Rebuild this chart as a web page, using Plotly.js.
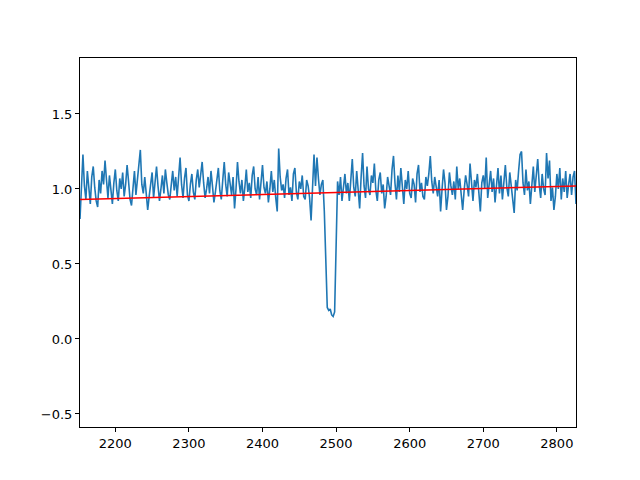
<!DOCTYPE html>
<html>
<head>
<meta charset="utf-8">
<script src="https://cdn.plot.ly/plotly-3.0.1.min.js"></script>
<style>html,body{margin:0;padding:0;background:#fff;}#chart{width:640px;height:480px;}</style>
</head>
<body>
<div id="chart"></div>
<script>
// Sample positions: start and spacing of the spectrum samples
const xStart = 2152;
const xStep = 2;
// Flux values
const flux = [
  0.80, 1.05, 1.23, 1.02, 0.93, 1.12, 0.98, 0.90, 1.08, 1.15,
  1.01, 0.92, 0.88, 1.06, 0.97, 1.12, 1.03, 1.19, 1.06, 0.94,
  1.09, 0.98, 0.90, 1.04, 1.13, 0.99, 0.92, 1.07, 1.00, 1.11,
  0.95, 1.03, 1.16, 1.05, 0.93, 0.89, 1.01, 1.12, 0.96, 1.08,
  1.14, 1.26, 1.03, 0.97, 1.08, 0.99, 0.86, 0.95, 1.04, 1.11,
  0.94, 1.06, 1.15, 1.02, 0.92, 1.00, 1.09, 0.97, 1.13, 1.04,
  0.96, 0.93, 1.05, 1.12, 0.99, 1.08, 0.95, 1.10, 1.21, 1.03,
  0.94, 1.07, 1.14, 0.96, 0.92, 1.03, 1.10, 0.98, 0.93, 1.06,
  1.13, 1.01, 1.09, 1.18, 1.04, 0.94, 1.00, 1.08, 0.97, 1.12,
  1.02, 0.91, 0.98, 1.07, 1.14, 0.99, 0.93, 1.06, 1.18, 1.03,
  0.95, 1.11, 1.02, 0.96, 1.08, 0.87, 1.00, 1.18, 1.05, 0.97,
  1.06, 0.92, 1.01, 1.13, 0.98, 1.04, 0.94, 1.09, 1.15, 1.00,
  0.96, 1.08, 0.93, 1.03, 1.16, 1.01, 0.97, 1.05, 0.91, 1.00,
  1.12, 0.98, 1.06, 0.94, 0.85, 1.27, 1.08, 0.99, 1.03, 0.94,
  1.07, 1.13, 0.96, 1.01, 0.92, 1.10, 1.14, 0.98, 0.93, 1.05,
  1.00, 1.09, 0.95, 0.93, 1.06, 1.02, 0.94, 0.79, 1.05, 1.23,
  1.02, 1.21, 1.07, 0.96, 1.03, 1.06, 0.85, 0.45, 0.21, 0.19,
  0.20, 0.16, 0.15, 0.18, 0.55, 1.05, 0.96, 1.08, 0.92, 1.02,
  1.10, 0.97, 1.04, 0.92, 1.07, 1.20, 1.01, 0.95, 1.12, 0.99,
  0.87, 1.08, 1.24, 1.02, 0.94, 1.15, 1.00, 0.96, 1.09, 1.04,
  1.17, 0.99, 0.92, 1.06, 1.11, 0.97, 1.03, 0.87, 0.95, 1.08,
  1.01, 0.96, 1.13, 1.22, 1.04, 0.93, 1.09, 0.98, 1.14, 1.02,
  0.90, 1.06, 1.00, 1.12, 0.97, 0.94, 1.07, 1.03, 0.91, 1.10,
  1.16, 0.98, 1.04, 0.95, 0.93, 1.08, 1.02, 1.10, 1.22, 1.05,
  0.97, 1.08, 1.01, 0.95, 1.06, 0.85, 1.00, 1.13, 1.04, 0.86,
  0.95, 1.11, 1.02, 0.96, 1.05, 0.93, 1.15, 1.00, 1.07, 0.97,
  0.86, 0.99, 1.09, 1.03, 0.95, 1.17, 1.02, 0.92, 1.06, 1.01,
  1.10, 0.96, 0.85, 1.04, 1.09, 1.00, 1.21, 0.94, 1.06, 1.12,
  0.98, 1.07, 0.91, 1.03, 1.14, 0.97, 1.09, 0.93, 1.05, 1.16,
  1.01, 0.95, 1.11, 1.03, 0.92, 0.84, 1.06, 0.99, 1.12, 1.23,
  1.25, 1.04, 0.96, 1.13, 0.99, 1.05, 0.90, 1.02, 1.15, 0.98,
  1.08, 1.20, 1.03, 0.94, 1.10, 1.00, 0.96, 1.24, 1.07, 1.19,
  0.92, 1.01, 0.86, 0.95, 1.10, 1.00, 1.14, 0.93, 1.07, 0.98,
  1.12, 0.94, 1.03, 1.10, 0.96, 1.08, 1.12, 0.90
];
// Continuum fit line endpoints
const fitX = [2152, 2826];
const fitY = [0.93, 1.02];

const xs = flux.map((_, i) => xStart + i * xStep);

const axisCommon = {
  showgrid: false, zeroline: false, showline: true, mirror: true,
  linecolor: '#000', linewidth: 1, ticks: 'outside', ticklen: 4, tickwidth: 1,
  tickcolor: '#000', tickfont: {family: 'DejaVu Sans', size: 13, color: '#000'}
};

Plotly.newPlot('chart', [
  {x: xs, y: flux, type: 'scatter', mode: 'lines', line: {color: '#1f77b4', width: 1.6}, hoverinfo: 'skip'},
  {x: fitX, y: fitY, type: 'scatter', mode: 'lines', line: {color: 'red', width: 1.5}, hoverinfo: 'skip'}
], {
  width: 640, height: 480,
  margin: {l: 80, r: 64, t: 58, b: 53},
  paper_bgcolor: '#fff', plot_bgcolor: '#fff',
  showlegend: false,
  xaxis: Object.assign({range: [2152, 2826], tickvals: [2200, 2300, 2400, 2500, 2600, 2700, 2800]}, axisCommon),
  yaxis: Object.assign({range: [-0.587, 1.873], tickvals: [-0.5, 0, 0.5, 1.0, 1.5], ticktext: ['−0.5', '0.0', '0.5', '1.0', '1.5']}, axisCommon)
}, {staticPlot: true, displayModeBar: false});
</script>
</body>
</html>
